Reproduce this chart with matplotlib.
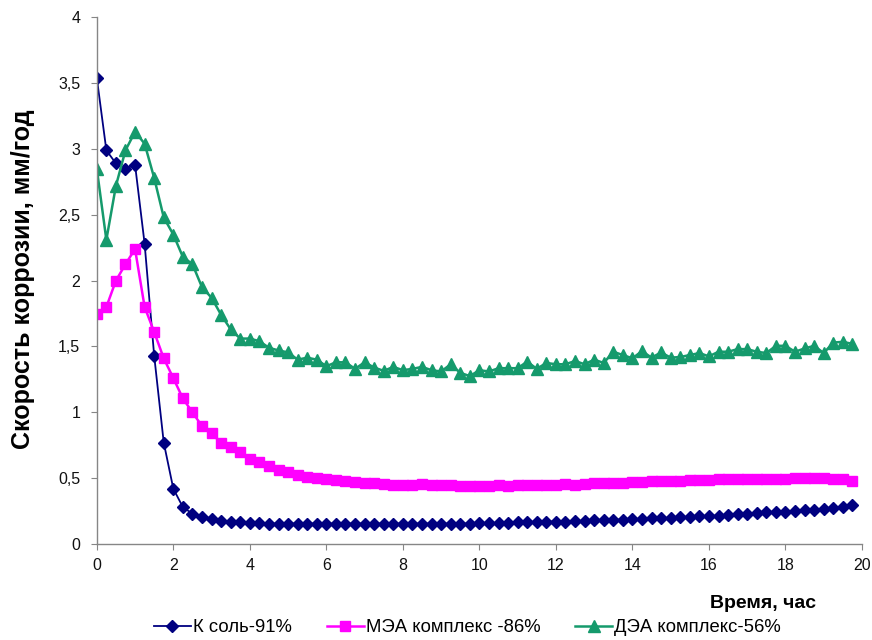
import matplotlib
matplotlib.use('Agg')
import matplotlib.pyplot as plt
from matplotlib.ticker import FuncFormatter
import numpy as np

plt.rcParams['font.family'] = ['Liberation Sans', 'DejaVu Sans']

# time axis, samples every 15 min
hours = np.arange(80) * 0.25

k_salt = [3.54, 2.99, 2.89, 2.85, 2.88, 2.28, 1.43, 0.77, 0.42, 0.28,
          0.23, 0.205, 0.19, 0.175, 0.17, 0.165, 0.16, 0.16, 0.155, 0.155,
          0.155, 0.155, 0.155, 0.155, 0.155, 0.155, 0.155, 0.155, 0.155, 0.155,
          0.155, 0.155, 0.155, 0.155, 0.155, 0.155, 0.155, 0.155, 0.155, 0.155,
          0.16, 0.16, 0.16, 0.16, 0.165, 0.165, 0.165, 0.17, 0.17, 0.17,
          0.175, 0.175, 0.18, 0.18, 0.185, 0.185, 0.19, 0.19, 0.195, 0.195,
          0.2, 0.205, 0.205, 0.21, 0.215, 0.215, 0.22, 0.225, 0.23, 0.235,
          0.24, 0.24, 0.245, 0.25, 0.255, 0.26, 0.265, 0.27, 0.28, 0.295]

mea = [1.75, 1.80, 2.00, 2.125, 2.24, 1.80, 1.61, 1.41, 1.26, 1.105,
       1.00, 0.895, 0.845, 0.765, 0.74, 0.695, 0.645, 0.62, 0.59, 0.565,
       0.545, 0.525, 0.51, 0.50, 0.49, 0.485, 0.475, 0.47, 0.465, 0.46,
       0.455, 0.45, 0.45, 0.45, 0.455, 0.45, 0.45, 0.445, 0.44, 0.44,
       0.44, 0.44, 0.445, 0.44, 0.445, 0.445, 0.445, 0.45, 0.45, 0.455,
       0.45, 0.455, 0.46, 0.46, 0.465, 0.465, 0.47, 0.47, 0.475, 0.475,
       0.48, 0.48, 0.485, 0.485, 0.485, 0.49, 0.49, 0.49, 0.495, 0.49,
       0.495, 0.495, 0.495, 0.50, 0.50, 0.505, 0.50, 0.495, 0.49, 0.48]

dea = [2.85, 2.31, 2.72, 2.99, 3.13, 3.04, 2.78, 2.48, 2.35, 2.18,
       2.125, 1.95, 1.87, 1.74, 1.63, 1.56, 1.56, 1.54, 1.49, 1.47,
       1.455, 1.40, 1.415, 1.40, 1.35, 1.38, 1.38, 1.33, 1.38, 1.34,
       1.315, 1.345, 1.32, 1.33, 1.345, 1.32, 1.31, 1.365, 1.30, 1.275,
       1.32, 1.31, 1.335, 1.335, 1.335, 1.385, 1.33, 1.375, 1.365, 1.365,
       1.39, 1.365, 1.40, 1.375, 1.46, 1.435, 1.41, 1.465, 1.415, 1.455,
       1.415, 1.42, 1.435, 1.45, 1.425, 1.46, 1.46, 1.48, 1.48, 1.46,
       1.45, 1.505, 1.505, 1.46, 1.485, 1.505, 1.45, 1.53, 1.535, 1.52]

labels = ['К соль-91%', 'МЭА комплекс -86%', 'ДЭА комплекс-56%']

fig = plt.figure(figsize=(8.72, 6.4), dpi=100)
ax = fig.add_axes([0.111, 0.15, 0.8775, 0.823])

ax.plot(hours, k_salt, color='#000080', lw=1.3, marker='D', ms=6,
        label=labels[0])
ax.plot(hours, mea, color='#ff00ff', lw=1.8, marker='s', ms=7.3,
        label=labels[1])
ax.plot(hours, dea, color='#159a6c', lw=1.8, marker='^', ms=8,
        label=labels[2])

ax.set_xlim(0, 20)
ax.set_ylim(0, 4)
ax.set_xticks(np.arange(0, 21, 2))
ax.set_yticks(np.arange(0, 4.01, 0.5))
ax.yaxis.set_major_formatter(FuncFormatter(lambda v, p: ('%g' % v).replace('.', ',')))

for s in ['top', 'right']:
    ax.spines[s].set_visible(False)
for s in ['left', 'bottom']:
    ax.spines[s].set_color('#868686')
    ax.spines[s].set_linewidth(1)
ax.tick_params(direction='out', length=4, color='#868686', labelsize=11.5,
               labelcolor='#111111')
ax.tick_params(axis='y', pad=8)
ax.tick_params(axis='x', pad=6)

fig.text(23 / 872, 1 - 279 / 640, 'Скорость коррозии, мм/год', rotation=90,
         ha='center', va='center', fontsize=18, fontweight='bold')
fig.text(816 / 872, 1 - 604 / 640, 'Время, час', ha='right', va='center',
         fontsize=14, fontweight='bold')

fig.legend(loc='center', bbox_to_anchor=(0.536, 1 - 628 / 640), ncol=3,
           frameon=False, fontsize=13.3, handlelength=2.0, handletextpad=0.1,
           columnspacing=1.9)

fig.savefig('out.png', dpi=100)
